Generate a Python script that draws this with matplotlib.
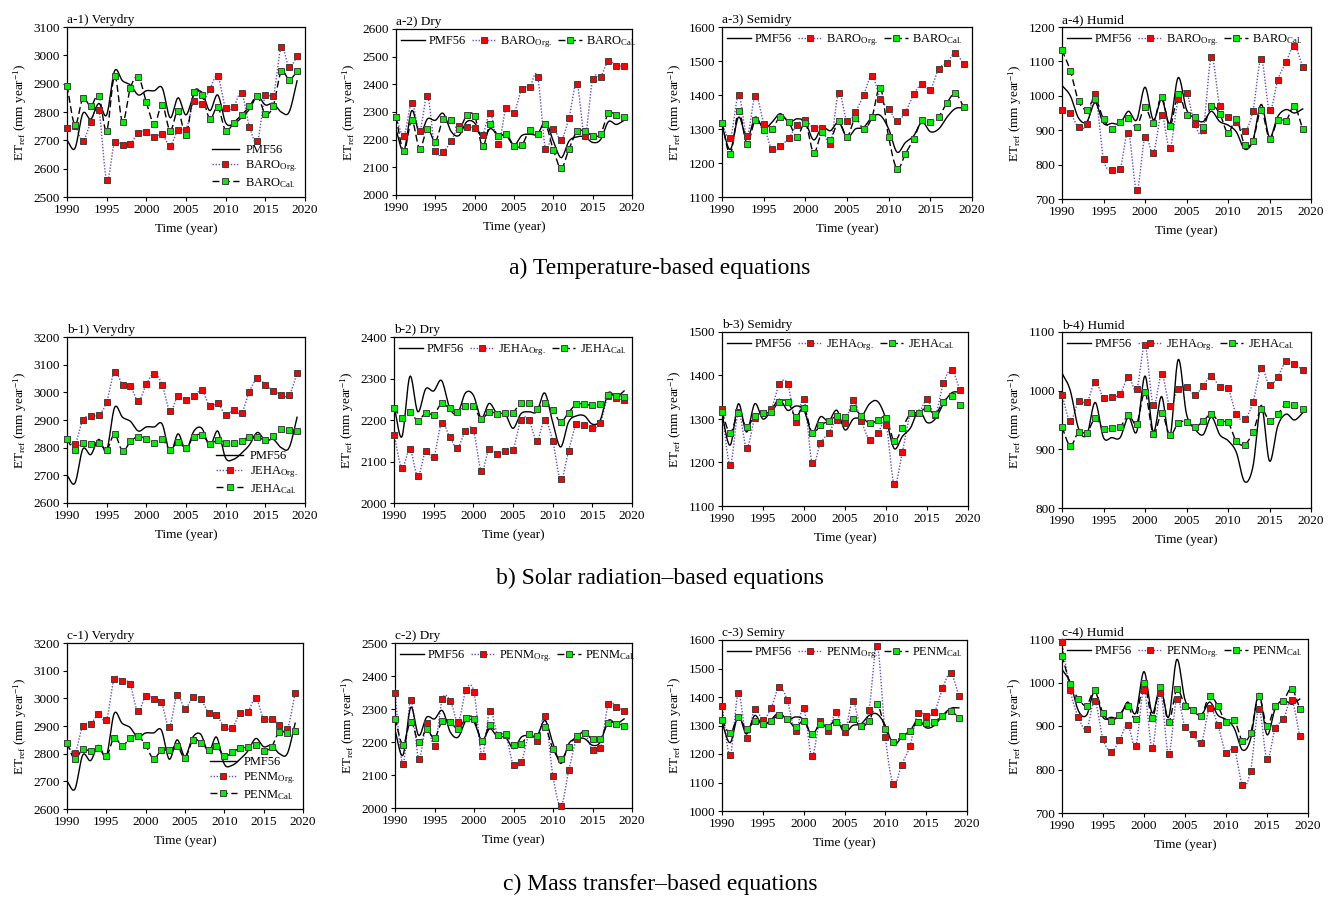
import numpy as np
import matplotlib
matplotlib.use('Agg')
import matplotlib.pyplot as plt
from matplotlib.lines import Line2D

plt.rcParams['font.family'] = ['Liberation Serif', 'DejaVu Serif']
plt.rcParams['mathtext.fontset'] = 'custom'
plt.rcParams['mathtext.rm'] = 'Liberation Serif'
plt.rcParams['mathtext.it'] = 'Liberation Serif:italic'

years = list(range(1990, 2020))

# ---------------- reference (PMF56) per climate ----------------
pmf56_verydry = [2700, 2672, 2795, 2775, 2830, 2790, 2945, 2910, 2895, 2860,
                 2875, 2875, 2885, 2780, 2850, 2790, 2860, 2870, 2805, 2860,
                 2762, 2758, 2780, 2810, 2855, 2825, 2830, 2800, 2800, 2910]
pmf56_dry = [2235, 2160, 2305, 2220, 2275, 2270, 2295, 2230, 2215, 2265,
             2260, 2205, 2240, 2215, 2215, 2180, 2215, 2220, 2220, 2265,
             2195, 2135, 2195, 2210, 2210, 2190, 2200, 2265, 2255, 2270]
pmf56_semidry = [1310, 1240, 1335, 1270, 1335, 1300, 1320, 1345, 1320, 1330,
                 1320, 1268, 1305, 1295, 1320, 1275, 1300, 1305, 1335, 1340,
                 1300, 1232, 1260, 1280, 1320, 1292, 1300, 1335, 1360, 1362]
pmf56_humid = [1030, 1000, 935, 925, 980, 920, 920, 920, 955, 930,
               1025, 930, 990, 920, 1053, 960, 935, 925, 955, 925,
               915, 895, 845, 870, 975, 880, 940, 960, 950, 962]

# ---------------- a) Temperature-based (BARO) ----------------
baro_org_verydry = [2745, 2750, 2698, 2764, 2808, 2561, 2693, 2682, 2688, 2727,
                    2731, 2711, 2721, 2681, 2738, 2738, 2840, 2828, 2881, 2926,
                    2814, 2818, 2867, 2748, 2698, 2861, 2855, 3028, 2959, 2996]
baro_cal_verydry = [2893, 2755, 2848, 2820, 2858, 2734, 2928, 2766, 2886, 2924,
                    2835, 2756, 2826, 2734, 2805, 2718, 2870, 2860, 2776, 2818,
                    2734, 2762, 2789, 2820, 2855, 2794, 2822, 2943, 2914, 2943]
baro_org_dry = [2283, 2215, 2333, 2232, 2358, 2158, 2157, 2195, 2250, 2245,
                2242, 2218, 2295, 2183, 2315, 2298, 2383, 2392, 2428, 2168,
                2237, 2200, 2280, 2402, 2213, 2418, 2428, 2483, 2467, 2467]
baro_cal_dry = [2283, 2158, 2270, 2168, 2240, 2193, 2275, 2270, 2238, 2288,
                2285, 2177, 2255, 2212, 2222, 2178, 2180, 2235, 2220, 2255,
                2163, 2097, 2167, 2230, 2230, 2215, 2220, 2295, 2290, 2283]
baro_org_semidry = [1318, 1273, 1400, 1280, 1398, 1316, 1240, 1251, 1273, 1312,
                    1327, 1302, 1303, 1256, 1406, 1323, 1350, 1400, 1457, 1388,
                    1360, 1324, 1350, 1402, 1432, 1416, 1477, 1495, 1524, 1490]
baro_cal_semidry = [1318, 1227, 1352, 1257, 1327, 1296, 1300, 1336, 1320, 1277,
                    1318, 1230, 1290, 1268, 1323, 1277, 1331, 1300, 1335, 1422,
                    1276, 1183, 1227, 1270, 1327, 1320, 1336, 1377, 1405, 1365]
baro_org_humid = [960, 950, 908, 917, 1004, 816, 783, 787, 893, 725,
                  880, 833, 945, 848, 990, 1008, 918, 902, 1113, 970,
                  937, 925, 897, 955, 1107, 958, 1047, 1098, 1145, 1084]
baro_cal_humid = [1133, 1073, 984, 960, 992, 932, 904, 925, 935, 910,
                  967, 922, 997, 911, 1005, 945, 938, 910, 970, 948,
                  892, 932, 858, 870, 958, 875, 930, 928, 970, 903]

# ---------------- b) Solar radiation-based (JEHA) ----------------
jeha_org_verydry = [2830, 2813, 2900, 2915, 2918, 2965, 3075, 3027, 3022, 2968,
                    3030, 3068, 3027, 2932, 2988, 2972, 2985, 3008, 2950, 2960,
                    2918, 2935, 2925, 3003, 3050, 3027, 3006, 2991, 2990, 3070]
jeha_cal_verydry = [2830, 2790, 2818, 2815, 2818, 2793, 2848, 2788, 2823, 2840,
                    2832, 2818, 2830, 2792, 2820, 2800, 2840, 2846, 2815, 2828,
                    2818, 2818, 2825, 2840, 2838, 2828, 2843, 2868, 2865, 2862]
jeha_org_dry = [2165, 2085, 2130, 2065, 2125, 2110, 2192, 2160, 2133, 2173,
                2175, 2078, 2130, 2118, 2125, 2128, 2200, 2200, 2150, 2200,
                2150, 2057, 2125, 2190, 2188, 2180, 2193, 2258, 2253, 2247]
jeha_cal_dry = [2230, 2205, 2220, 2198, 2218, 2213, 2240, 2228, 2220, 2233,
                2233, 2203, 2220, 2215, 2217, 2218, 2242, 2242, 2226, 2242,
                2225, 2195, 2218, 2238, 2238, 2235, 2238, 2260, 2258, 2256]
jeha_org_semidry = [1322, 1195, 1315, 1233, 1302, 1313, 1322, 1380, 1381, 1293,
                    1347, 1198, 1244, 1268, 1298, 1290, 1343, 1295, 1252, 1268,
                    1287, 1150, 1225, 1313, 1313, 1345, 1310, 1382, 1413, 1367]
jeha_cal_semidry = [1316, 1268, 1313, 1282, 1308, 1313, 1317, 1340, 1340, 1305,
                    1326, 1268, 1286, 1295, 1307, 1305, 1325, 1306, 1290, 1297,
                    1303, 1250, 1280, 1313, 1314, 1326, 1311, 1340, 1352, 1333]
jeha_org_humid = [993, 948, 982, 980, 1015, 988, 990, 994, 1023, 1002,
                  1077, 975, 1028, 974, 1003, 1006, 993, 1008, 1025, 1006,
                  1004, 960, 951, 980, 1038, 1009, 1024, 1050, 1046, 1035]
jeha_cal_humid = [938, 906, 930, 928, 953, 934, 936, 938, 958, 944,
                  997, 926, 962, 924, 945, 947, 938, 948, 960, 946,
                  946, 914, 908, 929, 968, 949, 960, 978, 975, 968]

# ---------------- c) Mass transfer-based (PENM) ----------------
penm_org_verydry = [2838, 2803, 2900, 2907, 2943, 2920, 3070, 3063, 3052, 2953,
                    3008, 2999, 2985, 2897, 3012, 2962, 3005, 2996, 2948, 2940,
                    2897, 2893, 2947, 2952, 3001, 2925, 2927, 2905, 2888, 3021]
penm_cal_verydry = [2838, 2780, 2818, 2808, 2822, 2790, 2858, 2828, 2855, 2865,
                    2830, 2782, 2813, 2812, 2828, 2785, 2850, 2840, 2815, 2828,
                    2790, 2805, 2820, 2823, 2830, 2810, 2825, 2880, 2873, 2882]
penm_org_dry = [2350, 2133, 2327, 2149, 2259, 2187, 2331, 2325, 2262, 2359,
                2351, 2159, 2295, 2222, 2222, 2129, 2140, 2224, 2202, 2278,
                2096, 2006, 2114, 2210, 2228, 2175, 2182, 2315, 2307, 2293]
penm_cal_dry = [2271, 2192, 2262, 2199, 2238, 2212, 2265, 2261, 2239, 2273,
                2271, 2202, 2251, 2222, 2224, 2191, 2195, 2224, 2217, 2244,
                2179, 2147, 2186, 2219, 2228, 2208, 2210, 2258, 2255, 2250]
penm_org_semidry = [1370, 1197, 1413, 1255, 1358, 1320, 1360, 1434, 1388, 1280,
                    1362, 1192, 1316, 1282, 1347, 1276, 1385, 1297, 1356, 1580,
                    1260, 1093, 1163, 1227, 1343, 1334, 1347, 1430, 1484, 1405]
penm_cal_semidry = [1320, 1272, 1330, 1287, 1316, 1305, 1317, 1336, 1323, 1293,
                    1317, 1270, 1304, 1293, 1313, 1293, 1323, 1297, 1315, 1375,
                    1288, 1243, 1262, 1280, 1311, 1309, 1313, 1335, 1350, 1328]
penm_org_humid = [1092, 982, 920, 893, 957, 870, 841, 867, 902, 855,
                  983, 850, 977, 836, 962, 898, 881, 861, 941, 902,
                  838, 848, 764, 797, 940, 823, 895, 915, 960, 876]
penm_cal_humid = [1062, 997, 963, 947, 982, 929, 912, 926, 946, 917,
                  1000, 919, 990, 909, 984, 947, 936, 924, 970, 946,
                  909, 914, 866, 884, 968, 901, 947, 958, 986, 940]

row_titles = ['a) Temperature-based equations',
              'b) Solar radiation\u2013based equations',
              'c) Mass transfer\u2013based equations']
methods = ['BARO', 'JEHA', 'PENM']
panel_titles = [['a-1) Verydry', 'a-2) Dry', 'a-3) Semidry', 'a-4) Humid'],
                ['b-1) Verydry', 'b-2) Dry', 'b-3) Semidry', 'b-4) Humid'],
                ['c-1) Verydry', 'c-2) Dry', 'c-3) Semiry', 'c-4) Humid']]
pmf56_all = [pmf56_verydry, pmf56_dry, pmf56_semidry, pmf56_humid]
org_all = [[baro_org_verydry, baro_org_dry, baro_org_semidry, baro_org_humid],
           [jeha_org_verydry, jeha_org_dry, jeha_org_semidry, jeha_org_humid],
           [penm_org_verydry, penm_org_dry, penm_org_semidry, penm_org_humid]]
cal_all = [[baro_cal_verydry, baro_cal_dry, baro_cal_semidry, baro_cal_humid],
           [jeha_cal_verydry, jeha_cal_dry, jeha_cal_semidry, jeha_cal_humid],
           [penm_cal_verydry, penm_cal_dry, penm_cal_semidry, penm_cal_humid]]
ylims = [[(2500, 3100), (2000, 2600), (1100, 1600), (700, 1200)],
         [(2600, 3200), (2000, 2400), (1100, 1500), (800, 1100)],
         [(2600, 3200), (2000, 2500), (1000, 1600), (700, 1100)]]

# axes boxes in pixels: (left, top, right, bottom)
boxes = [[(67, 27, 305, 197), (396, 29, 632, 195), (722, 27, 972, 197), (1062, 27, 1311, 199)],
         [(67, 337, 305, 503), (394, 337, 632, 503), (722, 332, 968, 506), (1062, 332, 1311, 508)],
         [(67, 643, 303, 809), (395, 643, 632, 808), (722, 640, 967, 811), (1062, 639, 1308, 813)]]
row_title_y = [268, 578, 884]

W, H = 1333, 897
fig = plt.figure(figsize=(W / 100, H / 100), dpi=100)


def smooth(x, y, n=16):
    P = np.column_stack([np.asarray(x, float), np.asarray(y, float)])
    P = np.vstack([2 * P[0] - P[1], P, 2 * P[-1] - P[-2]])
    t = np.linspace(0, 1, n, endpoint=False)[:, None]
    segs = []
    for i in range(1, len(P) - 2):
        p0, p1, p2, p3 = P[i - 1], P[i], P[i + 1], P[i + 2]
        c1 = p1 + (p2 - p0) / 6
        c2 = p2 - (p3 - p1) / 6
        segs.append((1 - t) ** 3 * p1 + 3 * (1 - t) ** 2 * t * c1
                    + 3 * (1 - t) * t ** 2 * c2 + t ** 3 * p2)
    segs.append(P[-2][None, :])
    S = np.vstack(segs)
    return S[:, 0], S[:, 1]


org_color = '#6a4cc8'
fs = 9.5
lfs = 9
ms = 3.8

for r in range(3):
    for c in range(4):
        l, t, rr, b = boxes[r][c]
        ax = fig.add_axes([l / W, 1 - b / H, (rr - l) / W, (b - t) / H])
        pm = pmf56_all[c]
        org = org_all[r][c]
        cal = cal_all[r][c]
        sx, sy = smooth(years, pm)
        ax.plot(sx, sy, color='black', lw=1.0, zorder=3)
        sx, sy = smooth(years, org)
        ax.plot(sx, sy, color=org_color, lw=1.0, ls=(0, (1, 1.2)), zorder=2)
        ax.plot(years, org, ls='none', marker='s', ms=ms, mfc='#ff0000',
                mec='#404040', mew=0.7, zorder=4, clip_on=False)
        sx, sy = smooth(years, cal)
        ax.plot(sx, sy, color='black', lw=1.0, ls=(0, (5, 2.5)), zorder=2)
        ax.plot(years, cal, ls='none', marker='s', ms=ms, mfc='#00ee00',
                mec='#404040', mew=0.7, zorder=5, clip_on=False)

        y0, y1 = ylims[r][c]
        ax.set_xlim(1990, 2020)
        ax.set_ylim(y0, y1)
        ax.set_xticks(range(1990, 2021, 5))
        ax.set_yticks(range(y0, y1 + 1, 100))
        ax.tick_params(direction='out', length=3, width=0.8, labelsize=fs, pad=2)
        for sp in ax.spines.values():
            sp.set_linewidth(0.9)
        ax.set_xlabel('Time (year)', fontsize=fs, labelpad=5)
        ax.set_ylabel(r'ET$_{\rm ref}$ (mm year$^{-1}$)', fontsize=fs, labelpad=3)
        ax.set_title(panel_titles[r][c], loc='left', fontsize=fs, pad=3)

        m = methods[r]
        handles = [Line2D([], [], color='black', lw=1.0),
                   Line2D([], [], color=org_color, lw=1.0, ls=(0, (1, 1.2)),
                          marker='s', ms=ms, mfc='#ff0000', mec='#404040', mew=0.7),
                   Line2D([], [], color='black', lw=1.0, ls=(0, (5, 2.5)),
                          marker='s', ms=ms, mfc='#00ee00', mec='#404040', mew=0.7)]
        labels = ['PMF56', m + r'$_{\rm Org.}$', m + r'$_{\rm Cal.}$']
        if c == 0:
            ax.legend(handles, labels, loc='lower right', frameon=False,
                      fontsize=lfs, handlelength=2.2, handletextpad=0.5,
                      labelspacing=0.15, borderaxespad=0.2)
        else:
            ax.legend(handles, labels, loc='upper left', bbox_to_anchor=(0.0, 1.0),
                      ncol=3, frameon=False, fontsize=lfs, handlelength=1.9,
                      handletextpad=0.35, columnspacing=0.45, borderaxespad=0.1,
                      borderpad=0.3)

    fig.text(660 / W, 1 - row_title_y[r] / H, row_titles[r], ha='center',
             va='center', fontsize=17)

fig.savefig('out.png', dpi=100)
